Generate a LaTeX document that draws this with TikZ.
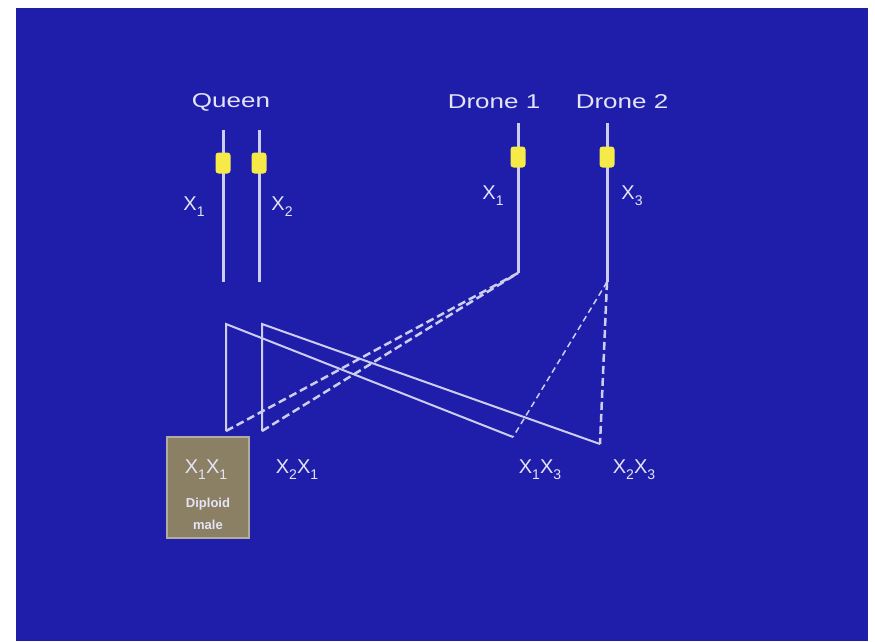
\documentclass[tikz,border=0pt]{standalone}
\usepackage{fontspec}
\setmainfont{Liberation Sans}
\newfontfamily\widefont[FakeStretch=1.3]{Liberation Sans}

\definecolor{slideblue}{RGB}{31,30,170}
\definecolor{chromline}{RGB}{205,205,240}
\definecolor{labeltext}{RGB}{228,228,246}
\definecolor{geneyellow}{RGB}{246,234,72}
\definecolor{malefill}{RGB}{140,128,100}
\definecolor{maleedge}{RGB}{178,172,160}

% lowered allele index
\newcommand{\allidx}[1]{\raisebox{-6.5pt}{\fontsize{14}{14}\selectfont #1}}

\begin{document}
\begin{tikzpicture}[
    x=1pt, y=-1pt,
    chrom/.style={line width=3pt, chromline},
    cross/.style={line width=2pt, chromline},
    dcross/.style={line width=2.5pt, chromline, dash pattern=on 8pt off 4pt},
    tcross/.style={line width=1.5pt, chromline, dash pattern=on 6pt off 4pt},
    gene/.style={fill=geneyellow, rounded corners=3pt, minimum width=15pt, minimum height=21pt, inner sep=0pt},
    parent/.style={font=\widefont\fontsize{20}{24}\selectfont, text=labeltext, inner sep=0pt},
    allele/.style={font=\fontsize{20}{24}\selectfont, text=labeltext, inner sep=0pt, anchor=base},
    malebox/.style={draw=maleedge, line width=1.2pt, fill=malefill, minimum width=82pt, minimum height=101pt, inner sep=0pt}
]
    % Slide background
    \useasboundingbox (0,0) rectangle (875,641);
    \fill[white] (0,0) rectangle (875,641);
    \fill[slideblue] (16,8) rectangle (868,641);

    % Parents
    \node[parent] (queen) at (231,102) {Queen};
    \node[parent] (drone1) at (494,102) {Drone 1};
    \node[parent] (drone2) at (622,102) {Drone 2};

    % Chromosome ends
    \coordinate (qa top) at (223,130);
    \coordinate (qa bot) at (223,282);
    \coordinate (qb top) at (259,130);
    \coordinate (qb bot) at (259,282);
    \coordinate (da top) at (518,123);
    \coordinate (da bot) at (518,273);
    \coordinate (db top) at (607,123);
    \coordinate (db bot) at (607,282);

    \draw[chrom] (qa top) -- (qa bot);
    \draw[chrom] (qb top) -- (qb bot);
    \draw[chrom] (da top) -- (da bot);
    \draw[chrom] (db top) -- (db bot);

    % Sex locus
    \node[gene] (qa gene) at (223,163) {};
    \node[gene] (qb gene) at (259,163) {};
    \node[gene] (da gene) at (518,157) {};
    \node[gene] (db gene) at (607,157) {};

    \node[allele] (qa lab) at (194,210) {X\allidx{1}};
    \node[allele] (qb lab) at (282,210) {X\allidx{2}};
    \node[allele] (da lab) at (493,199) {X\allidx{1}};
    \node[allele] (db lab) at (632,199) {X\allidx{3}};

    % Offspring ends
    \coordinate (oa top) at (226,324);
    \coordinate (oa bot) at (226,431);
    \coordinate (ob top) at (262,324);
    \coordinate (ob bot) at (262,431);
    \coordinate (oc end) at (513,437);
    \coordinate (od end) at (600,444);

    % Queen side (solid)
    \draw[cross] (oa bot) -- (oa top) -- (oc end);
    \draw[cross] (ob bot) -- (ob top) -- (od end);

    % Drone side (dashed)
    \draw[dcross] (oa bot) -- (da bot);
    \draw[dcross] (ob bot) -- (da bot);
    \draw[tcross] (db bot) -- (oc end);
    \draw[dcross] (db bot) -- (od end);

    % Offspring
    \node[malebox] (diploid) at (208,487.5) {};
    \node[allele] (oa lab) at (206,473) {X\allidx{1}X\allidx{1}};
    \node[font=\fontsize{13}{22}\selectfont\bfseries, text=labeltext, align=center, inner sep=0pt] (male note) at (208,514) {Diploid\\male};
    \node[allele] (ob lab) at (297,473) {X\allidx{2}X\allidx{1}};
    \node[allele] (oc lab) at (540,473) {X\allidx{1}X\allidx{3}};
    \node[allele] (od lab) at (634,473) {X\allidx{2}X\allidx{3}};
\end{tikzpicture}
\end{document}
